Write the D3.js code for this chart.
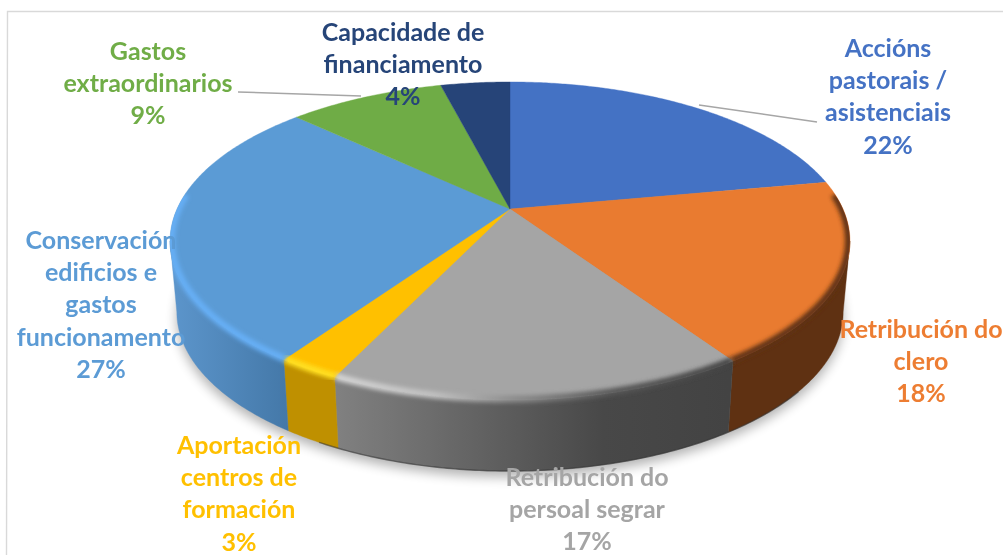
<!DOCTYPE html>
<html>
<head>
<meta charset="utf-8">
<script src="https://cdnjs.cloudflare.com/ajax/libs/d3/7.8.5/d3.min.js"></script>
<style>
html,body{margin:0;padding:0;background:#fff;overflow:hidden}
svg{display:block}
text{font-family:Lato,"Open Sans",sans-serif;font-weight:700;font-size:25px;text-anchor:middle}
</style>
</head>
<body>
<svg id="c" width="1003" height="555"></svg>
<script>
// ---- data ----
const categories = [
  ["Accións","pastorais /","asistenciais"],
  ["Retribución do","clero"],
  ["Retribución do","persoal segrar"],
  ["Aportación","centros de","formación"],
  ["Conservación","edificios e","gastos","funcionamento"],
  ["Gastos","extraordinarios"],
  ["Capacidade de","financiamento"]
];
const values = [22.1, 18.49, 16.5, 2.5, 27.4, 9.01, 4];
const percentLabels = ["22%","18%","17%","3%","27%","9%","4%"];

// ---- styles and layout ----
const topColors = ["#4472c4","#e97b30","#a5a5a5","#ffc000","#5b9bd5","#6fac46","#264478"];
const labelColors = ["#4472c4","#ed7d31","#a5a5a5","#ffc000","#5b9bd5","#70ad47","#264478"];
const sideStops = [
  [[0,"#5f3112"],[1,"#5f3112"]],
  [[0,"#5f3112"],[1,"#5f3112"]],
  [[0,"#808080"],[0.68,"#484848"],[1,"#434343"]],
  [[0,"#bf9000"],[1,"#bf9000"]],
  [[0,"#5b94ca"],[1,"#4478a8"]],
  [[0,"#4e7a31"],[1,"#4e7a31"]],
  [[0,"#1a3054"],[1,"#1a3054"]]
];
const rimStops = [
  null,
  [[0,"#5f3112"],[1,"#5f3112"]],
  [[0,"#d4d4d4"],[0.25,"#c0c0c0"],[0.45,"#8c8c8c"],[0.7,"#585858"],[1,"#444444"]],
  [[0,"#ffdf20"],[1,"#ffdf20"]],
  [[0,"#66aff5"],[1,"#66aff5"]],
  null,
  null
];
const labelCenters = [[888,49],[921,330],[587,478],[239,446],[101,241],[148,52],[403,33]];
const lineGap = 32.2;
const leaderLines = [
  [[699,105],[817,122]],
  [[238,92],[361,96]]
];
const W = 1003, H = 555;
const centerX = 510, apexY = 209, radiusX = 333, radiusY = 152.6, persp = 0.2013;
const baseScale = 0.98, depth = 71;
const frontFrom = Math.acos(-persp), frontTo = 2*Math.PI-frontFrom;

const svg = d3.select("#c");
const defs = svg.append("defs");
defs.append("filter").attr("id","shadowBlur").attr("x","-10%").attr("y","-20%").attr("width","120%").attr("height","140%")
  .append("feGaussianBlur").attr("stdDeviation",6);
defs.append("filter").attr("id","rimBlur").attr("x","-10%").attr("y","-20%").attr("width","120%").attr("height","140%")
  .append("feGaussianBlur").attr("stdDeviation",2);
defs.append("filter").attr("id","textSoft").attr("x","-5%").attr("y","-5%").attr("width","110%").attr("height","110%")
  .append("feGaussianBlur").attr("stdDeviation",0.35);

const xS = d3.scaleLinear().domain([-1,1]).range([centerX-radiusX,centerX+radiusX]);
const yS = d3.scaleLinear().domain([-1,1]).range([apexY-radiusY,apexY+radiusY]);
function project(a, inset){
  const f = inset || 1, u = Math.sin(a)*f, v = -Math.cos(a)*f, w = 1-persp*v;
  return [xS(u/w), yS(v/w)];
}
function toBase(p){ return [centerX+(p[0]-centerX)*baseScale, p[1]+depth]; }
function samples(a0,a1,inset){
  const n = Math.max(2,Math.ceil((a1-a0)/0.01));
  return d3.range(n+1).map(i=>project(a0+(a1-a0)*i/n,inset));
}
const line = d3.line();
const pie = d3.pie().sort(null).value(d=>d)(values);
const apex = project(0,1e-9);

// frame
svg.append("path").attr("d",line([[6.5,555],[7.5,11.5],[1003,11.5]]))
  .attr("fill","none").attr("stroke","#d9d9d9").attr("stroke-width",1.4);

// shadow
const whole = samples(0,2*Math.PI);
svg.append("path").attr("d",line(whole.map(toBase))+"Z")
  .attr("transform","translate(0,6)")
  .attr("fill","#000").attr("opacity",0.3).attr("filter","url(#shadowBlur)");

// clip for everything belonging to the pie body
const clip = defs.append("clipPath").attr("id","bodyClip");
clip.append("path").attr("d",line(whole)+"Z");
const frontPts = samples(frontFrom,frontTo);
clip.append("path").attr("d",line(frontPts.concat(frontPts.map(toBase).reverse()))+"Z");

function gradient(id,stops,x0,x1){
  const g = defs.append("linearGradient").attr("id",id).attr("gradientUnits","userSpaceOnUse")
    .attr("x1",x0).attr("x2",x1).attr("y1",0).attr("y2",0);
  stops.forEach(s=>g.append("stop").attr("offset",s[0]).attr("stop-color",s[1]));
}

// sides (only the part of each slice facing the viewer)
pie.forEach((d,i)=>{
  const a0 = Math.max(d.startAngle,frontFrom), a1 = Math.min(d.endAngle,frontTo);
  if(a1<=a0) return;
  const pts = samples(a0,a1), base = pts.map(toBase);
  const xs = base.map(p=>p[0]);
  gradient("side"+i,sideStops[i],d3.min(xs),d3.max(xs));
  svg.append("path").attr("d",line(pts.concat(base.slice().reverse()))+"Z")
    .attr("fill",`url(#side${i})`).attr("stroke",`url(#side${i})`).attr("stroke-width",0.4);
});
// darker lower lip of the base
svg.append("path").attr("d",line(samples(Math.PI*0.72,Math.PI*1.16).map(toBase)))
  .attr("fill","none").attr("stroke","#333").attr("stroke-opacity",0.55).attr("stroke-width",1.4);

// top faces
pie.forEach((d,i)=>{
  svg.append("path").attr("d",line([apex].concat(samples(d.startAngle,d.endAngle)))+"Z")
    .attr("fill",topColors[i]).attr("stroke",topColors[i]).attr("stroke-width",0.4);
});

// bevel
const rimG = svg.append("g").attr("clip-path","url(#bodyClip)");
const rimFrom = 0.47*Math.PI, rimTo = 1.53*Math.PI;
pie.forEach((d,i)=>{
  if(!rimStops[i]) return;
  const a0 = Math.max(d.startAngle,rimFrom), a1 = Math.min(d.endAngle,rimTo);
  const pts = samples(a0,a1,0.996);
  const xs = pts.map(p=>p[0]);
  gradient("rim"+i,rimStops[i],d3.min(xs),d3.max(xs));
  rimG.append("path").attr("d",line(pts)).attr("fill","none")
    .attr("stroke",`url(#rim${i})`).attr("stroke-width",7).attr("filter","url(#rimBlur)");
});

// leader lines
leaderLines.forEach(l=>{
  svg.append("path").attr("d",line(l)).attr("fill","none").attr("stroke","#a6a6a6").attr("stroke-width",1.5);
});

// labels
const labels = svg.append("g").attr("filter","url(#textSoft)");
categories.forEach((rows,i)=>{
  const lines = rows.concat(percentLabels[i]);
  const t = labels.append("text").attr("fill",labelColors[i]);
  lines.forEach((s,j)=>{
    t.append("tspan").attr("x",labelCenters[i][0]).attr("y",labelCenters[i][1]+8+j*lineGap).text(s);
  });
});
</script>
</body>
</html>
